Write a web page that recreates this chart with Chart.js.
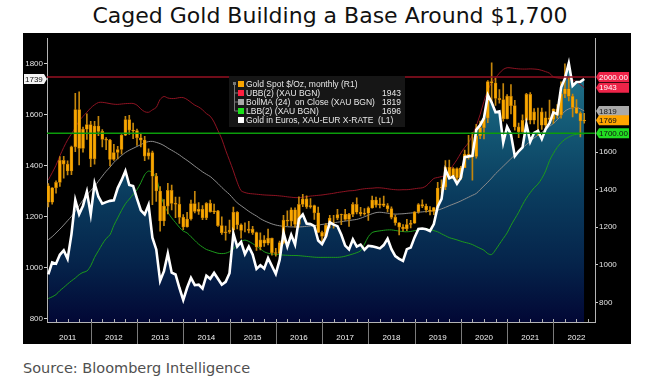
<!DOCTYPE html>
<html>
<head>
<meta charset="utf-8">
<script src="https://cdn.jsdelivr.net/npm/chart.js@4.4.1/dist/chart.umd.min.js"></script>
<style>
  body { margin: 0; width: 660px; height: 381px; background: #fff; overflow: hidden; font-family: "DejaVu Sans", sans-serif; }
  #title { position: absolute; left: 0; top: 3px; width: 660px; text-align: center; font-size: 22px; color: #111; }
  #box { position: absolute; left: 23px; top: 33px; width: 608px; height: 311px; background: #000; }
  #source { position: absolute; left: 23px; top: 360px; font-size: 14.5px; color: #505050; }
</style>
</head>
<body>
<div id="title">Caged Gold Building a Base Around $1,700</div>
<div id="box"><canvas id="chartCanvas" width="608" height="311"></canvas></div>
<div id="source">Source: Bloomberg Intelligence</div>
<script>
/********** DATA (monthly, Jan 2011 - Aug 2022) **********/
const years = ['2011','2012','2013','2014','2015','2016','2017','2018','2019','2020','2021','2022'];

// gold spot $/oz, monthly candles (right axis)
const goldOpen = [
  1421,1333,1410,1439,1556,1536,1500,1628,1826,1620,1722,1746,
  1564,1739,1710,1668,1664,1561,1598,1614,1690,1773,1717,1714,
  1676,1664,1579,1597,1472,1393,1234,1313,1396,1327,1323,1253,
  1202,1244,1326,1284,1296,1250,1327,1282,1287,1209,1171,1176,
  1184,1280,1213,1183,1183,1190,1172,1095,1133,1115,1142,1065,
  1061,1118,1238,1233,1293,1215,1322,1351,1309,1316,1277,1173,
  1152,1211,1249,1249,1268,1269,1242,1269,1322,1280,1271,1275,
  1303,1345,1318,1325,1316,1299,1253,1224,1201,1192,1215,1222,
  1282,1321,1313,1292,1284,1305,1409,1414,1520,1472,1513,1464,
  1517,1589,1585,1577,1687,1730,1781,1975,1968,1886,1879,1777,
  1898,1847,1734,1708,1769,1907,1770,1814,1814,1743,1783,1774,
  1829,1797,1909,1937,1897,1837,1807,1766
];
const goldHigh = [
  1432,1411,1447,1576,1577,1553,1632,1913,1921,1733,1804,1764,
  1764,1791,1720,1677,1668,1641,1631,1693,1790,1796,1755,1723,
  1694,1684,1617,1605,1487,1416,1348,1434,1424,1361,1361,1267,
  1280,1345,1392,1331,1315,1332,1345,1323,1290,1255,1207,1238,
  1307,1284,1219,1224,1232,1205,1175,1170,1156,1191,1143,1088,
  1127,1263,1287,1304,1303,1362,1375,1367,1353,1318,1307,1180,
  1220,1264,1263,1296,1270,1296,1274,1331,1357,1306,1299,1309,
  1366,1361,1356,1366,1326,1309,1265,1225,1214,1243,1237,1284,
  1326,1346,1324,1310,1306,1439,1453,1555,1557,1518,1516,1524,
  1611,1689,1704,1748,1765,1789,1981,2075,1992,1933,1965,1906,
  1959,1875,1755,1798,1913,1917,1832,1834,1834,1814,1877,1831,
  1853,1974,2070,1998,1909,1879,1814,1807
];
const goldLow = [
  1308,1323,1381,1417,1462,1478,1480,1603,1532,1600,1667,1523,
  1536,1688,1627,1613,1527,1556,1564,1589,1688,1694,1672,1635,
  1627,1555,1562,1321,1338,1180,1208,1271,1292,1251,1221,1187,
  1200,1238,1277,1268,1240,1240,1280,1273,1204,1162,1131,1168,
  1167,1191,1142,1175,1170,1162,1077,1080,1098,1106,1052,1046,
  1058,1111,1208,1207,1200,1200,1310,1301,1302,1242,1171,1123,
  1146,1196,1195,1240,1214,1236,1205,1256,1271,1261,1264,1237,
  1302,1307,1303,1310,1282,1245,1211,1160,1180,1182,1196,1221,
  1275,1304,1281,1266,1267,1306,1382,1400,1459,1459,1445,1454,
  1517,1563,1451,1568,1671,1670,1757,1863,1848,1860,1765,1776,
  1803,1717,1677,1705,1766,1750,1750,1688,1721,1722,1759,1753,
  1780,1781,1890,1872,1787,1805,1681,1754
];
const goldClose = [
  1333,1410,1439,1556,1536,1500,1628,1826,1620,1722,1746,1564,
  1739,1710,1668,1664,1561,1598,1614,1690,1773,1717,1714,1676,
  1664,1579,1597,1472,1393,1234,1313,1396,1327,1323,1253,1202,
  1244,1326,1284,1296,1250,1327,1282,1287,1209,1171,1176,1184,
  1280,1213,1183,1183,1190,1172,1095,1133,1115,1142,1065,1061,
  1118,1238,1233,1293,1215,1322,1351,1309,1316,1277,1173,1152,
  1211,1249,1249,1268,1269,1242,1269,1322,1280,1271,1275,1303,
  1345,1318,1325,1316,1299,1253,1224,1201,1192,1215,1222,1282,
  1321,1313,1292,1284,1305,1409,1414,1520,1472,1513,1464,1517,
  1589,1585,1577,1687,1730,1781,1975,1968,1886,1879,1777,1898,
  1847,1734,1708,1769,1907,1770,1814,1814,1743,1783,1774,1829,
  1797,1909,1937,1897,1837,1807,1766,1769
];

// gold in euros, XAU-EUR (left axis)
const euroClose = [
  974,1021,1016,1051,1068,1035,1131,1265,1210,1243,1298,1209,
  1330,1278,1251,1257,1262,1264,1312,1343,1379,1324,1320,1271,
  1225,1209,1246,1118,1072,949,987,1056,981,974,922,874,
  922,961,932,934,919,969,957,980,957,934,945,979,
  1134,1083,1101,1054,1083,1052,996,1010,997,1038,1007,976,
  1031,1138,1083,1129,1091,1191,1209,1173,1171,1163,1107,1093,
  1122,1178,1169,1163,1129,1087,1072,1111,1083,1091,1071,1086,
  1084,1080,1076,1089,1114,1073,1046,1035,1027,1073,1079,1119,
  1152,1154,1151,1144,1171,1239,1270,1384,1350,1357,1329,1352,
  1433,1436,1438,1540,1558,1586,1676,1647,1609,1612,1490,1552,
  1522,1437,1456,1471,1563,1493,1528,1536,1504,1543,1566,1608,
  1601,1705,1741,1800,1712,1727,1728,1739
];

// bollinger bands (24) (right axis)
const upperBand = [
  1452,1490,1530,1580,1625,1665,1697,1730,1765,1790,1812,1835,
  1852,1864,1865,1862,1858,1855,1854,1856,1858,1859,1859,1850,
  1830,1815,1812,1825,1838,1880,1896,1888,1885,1886,1890,1890,
  1880,1865,1850,1840,1825,1805,1791,1760,1715,1670,1610,1556,
  1500,1440,1395,1385,1380,1378,1376,1374,1372,1371,1370,1369,
  1367,1365,1362,1360,1358,1358,1360,1363,1366,1368,1370,1372,
  1375,1378,1381,1385,1388,1391,1394,1395,1398,1402,1405,1407,
  1408,1410,1410,1408,1405,1402,1400,1399,1400,1400,1402,1405,
  1408,1410,1420,1440,1460,1465,1470,1475,1500,1530,1560,1595,
  1625,1650,1690,1740,1800,1870,1930,1970,1995,2020,2040,2049,
  2048,2045,2043,2042,2042,2043,2042,2040,2035,2028,2020,2000,
  1995,1993,1992,1990,1985,1975,1960,1943
];
const bollMA = [
  1134,1150,1170,1190,1212,1235,1258,1285,1315,1345,1372,1395,
  1418,1445,1472,1498,1520,1545,1565,1582,1598,1610,1620,1630,
  1640,1650,1656,1657,1652,1645,1635,1622,1610,1598,1585,1570,
  1556,1541,1525,1510,1495,1482,1470,1452,1433,1412,1393,1375,
  1352,1330,1315,1300,1285,1272,1260,1246,1235,1226,1218,1212,
  1208,1205,1203,1202,1202,1202,1203,1205,1207,1209,1212,1215,
  1218,1221,1224,1227,1230,1233,1236,1239,1242,1248,1256,1264,
  1272,1278,1280,1278,1275,1272,1270,1271,1272,1274,1276,1278,
  1280,1282,1284,1286,1288,1291,1298,1306,1315,1323,1331,1340,
  1350,1360,1370,1380,1400,1420,1440,1462,1485,1505,1525,1545,
  1565,1585,1605,1622,1640,1658,1675,1690,1705,1720,1737,1752,
  1772,1795,1818,1830,1836,1838,1830,1819
];
const lowerBand = [
  821,830,842,863,880,898,915,930,948,960,967,995,
  1040,1075,1110,1140,1160,1210,1250,1290,1325,1350,1375,1400,
  1437,1480,1499,1490,1465,1384,1320,1280,1250,1225,1200,1180,
  1170,1150,1130,1110,1095,1082,1075,1068,1062,1060,1062,1070,
  1085,1105,1125,1132,1125,1113,1100,1085,1070,1062,1058,1056,
  1054,1052,1051,1050,1050,1049,1047,1045,1043,1041,1040,1040,
  1040,1040,1040,1040,1042,1046,1052,1058,1065,1075,1110,1150,
  1172,1178,1181,1184,1186,1186,1183,1180,1177,1176,1178,1182,
  1186,1190,1191,1188,1182,1176,1165,1155,1145,1139,1133,1126,
  1120,1115,1108,1098,1088,1078,1060,1055,1080,1110,1140,1170,
  1210,1245,1280,1320,1355,1384,1410,1430,1460,1500,1555,1593,
  1625,1650,1668,1680,1690,1695,1697,1696
];

const leftTicks = [800, 1000, 1200, 1400, 1600, 1800];
const rightTicks = [800, 1000, 1200, 1400, 1600];
const capLine = 2000;   // red line, right axis
const floorLine = 1700; // green line, right axis

/********** HELPERS **********/
// month i is plotted at its month end (Jan 2011 start = 0)
const xy = arr => arr.map((v, i) => ({ x: i + 1, y: v }));
const last = arr => arr[arr.length - 1];
const tickFont = { family: 'Liberation Sans', size: 8 };

function areaGradient(context) {
  const { ctx, chartArea } = context.chart;
  if (!chartArea) return 'rgba(0,0,0,0)';
  const g = ctx.createLinearGradient(0, chartArea.top, 0, chartArea.bottom);
  g.addColorStop(0, '#2a8298');
  g.addColorStop(0.3, '#145a76');
  g.addColorStop(0.55, '#0a3c5e');
  g.addColorStop(0.8, '#05234a');
  g.addColorStop(1, '#020735');
  return g;
}

function badge(ctx, left, y, w, text, bg, fg, pointLeft) {
  const h = 10;
  ctx.beginPath();
  if (pointLeft) {
    ctx.moveTo(left, y);
    ctx.lineTo(left + 3, y - h / 2);
    ctx.lineTo(left + w, y - h / 2);
    ctx.lineTo(left + w, y + h / 2);
    ctx.lineTo(left + 3, y + h / 2);
  } else {
    ctx.moveTo(left + w, y);
    ctx.lineTo(left + w - 3, y - h / 2);
    ctx.lineTo(left, y - h / 2);
    ctx.lineTo(left, y + h / 2);
    ctx.lineTo(left + w - 3, y + h / 2);
  }
  ctx.closePath();
  ctx.fillStyle = bg;
  ctx.fill();
  ctx.fillStyle = fg;
  ctx.font = '8px "Liberation Sans"';
  ctx.textBaseline = 'middle';
  ctx.textAlign = 'left';
  ctx.fillText(text, pointLeft ? left + 3 : left + 1, y + 0.5);
}

/********** DECORATIONS (ref lines, separators, badges, legend) **********/
const decor = {
  id: 'decor',
  afterDatasetsDraw(chart) {
    const { ctx, chartArea: a, scales } = chart;
    ctx.save();
    const hline = (y, color) => {
      ctx.strokeStyle = color; ctx.lineWidth = 1.5;
      ctx.beginPath(); ctx.moveTo(a.left, y); ctx.lineTo(a.right, y); ctx.stroke();
    };
    hline(scales.yR.getPixelForValue(capLine), '#961022');
    hline(scales.yR.getPixelForValue(floorLine), '#0b9c0b');
    ctx.restore();
  },
  afterDraw(chart) {
    const { ctx, chartArea: a, scales } = chart;
    const { x, yL, yR } = scales;
    ctx.save();

    // year separators below the axis
    ctx.strokeStyle = '#7a7a7a'; ctx.lineWidth = 1;
    for (let k = 1; k < years.length; k++) {
      const px = Math.round(x.getPixelForValue(12 * k)) + 0.5;
      ctx.beginPath(); ctx.moveTo(px, a.bottom); ctx.lineTo(px, chart.height); ctx.stroke();
    }
    // quarter ticks on the axis
    ctx.strokeStyle = '#b0b0b0';
    for (let m = 3; m < x.max; m += 3) {
      const px = Math.round(x.getPixelForValue(m)) + 0.5;
      ctx.beginPath(); ctx.moveTo(px, a.bottom - 3); ctx.lineTo(px, a.bottom); ctx.stroke();
    }

    // right side value badges
    const rx = a.right + 1, bw = 33;
    badge(ctx, rx, yR.getPixelForValue(capLine), bw, capLine.toFixed(2), '#ee2449', '#fff', true);
    badge(ctx, rx, yR.getPixelForValue(last(upperBand)), bw, String(last(upperBand)), '#ee2449', '#fff', true);
    badge(ctx, rx, yR.getPixelForValue(last(bollMA)), bw, String(last(bollMA)), '#a9a9a9', '#1a1a1a', true);
    badge(ctx, rx, yR.getPixelForValue(last(goldClose)), bw, String(last(goldClose)), '#ffa500', '#111', true);
    badge(ctx, rx, yR.getPixelForValue(floorLine), bw, floorLine.toFixed(2), '#22dd22', '#111', true);
    // left badge: last euro value
    badge(ctx, 1, yL.getPixelForValue(last(euroClose)), a.left - 1, String(last(euroClose)), '#f4f4f4', '#111', false);

    // legend box
    const lx = 206, ly = 43, lw = 176, lh = 51;
    ctx.fillStyle = '#161616';
    ctx.fillRect(lx, ly, lw, lh);
    const rows = [
      ['Gold Spot $/Oz, monthly (R1)', '#f7a400', ''],
      ['UBB(2) (XAU BGN)', '#ff1f3f', String(last(upperBand))],
      ['BollMA (24)  on Close (XAU BGN)', '#a8a8a8', String(last(bollMA))],
      ['LBB(2) (XAU BGN)', '#19e019', String(last(lowerBand))],
      ['Gold in Euros, XAU-EUR X-RATE  (L1)', '#ffffff', '']
    ];
    // tree connector
    ctx.strokeStyle = '#777'; ctx.lineWidth = 1;
    ctx.beginPath();
    ctx.moveTo(lx + 5.5, ly + 8); ctx.lineTo(lx + 5.5, ly + 35); ctx.lineTo(lx + 9, ly + 35);
    ctx.moveTo(lx + 5.5, ly + 17); ctx.lineTo(lx + 9, ly + 17);
    ctx.moveTo(lx + 5.5, ly + 26); ctx.lineTo(lx + 9, ly + 26);
    ctx.stroke();
    ctx.fillStyle = '#777';
    ctx.fillRect(lx + 4, ly + 6, 3, 3);
    ctx.font = '8.5px "Liberation Sans"';
    ctx.textBaseline = 'middle';
    rows.forEach((r, i) => {
      const cy = ly + 8 + i * 9;
      ctx.fillStyle = r[1];
      ctx.fillRect(lx + 9, cy - 3, 6, 6);
      ctx.fillStyle = '#e8e8e8';
      ctx.textAlign = 'left';
      ctx.fillText(r[0], lx + 17, cy + 0.5);
      if (r[2]) {
        ctx.textAlign = 'right';
        ctx.fillText(r[2], lx + lw - 4, cy + 0.5);
      }
    });
    ctx.restore();
  }
};

/********** CHART.JS SETUP **********/
const plain = v => String(v);
const ctx = document.getElementById('chartCanvas').getContext('2d');
new Chart(ctx, {
  type: 'line',
  data: {
    datasets: [
      { type: 'line', label: 'area', data: xy(euroClose), yAxisID: 'yL', borderWidth: 0,
        pointRadius: 0, fill: 'start', backgroundColor: areaGradient, order: 10 },
      { type: 'line', label: 'UBB(2)', data: xy(upperBand), yAxisID: 'yR', borderColor: '#8e1322',
        borderWidth: 1, pointRadius: 0, fill: false, tension: 0.3, order: 8 },
      { type: 'line', label: 'BollMA (24)', data: xy(bollMA), yAxisID: 'yR', borderColor: '#8c8c8c',
        borderWidth: 1, pointRadius: 0, fill: false, tension: 0.3, order: 8 },
      { type: 'line', label: 'LBB(2)', data: xy(lowerBand), yAxisID: 'yR', borderColor: '#1c9a1c',
        borderWidth: 1, pointRadius: 0, fill: false, tension: 0.3, order: 8 },
      { type: 'bar', label: 'wick', data: goldLow.map((l, i) => ({ x: i + 1, y: [l, goldHigh[i]] })),
        yAxisID: 'yR', backgroundColor: '#c4860c', barThickness: 1, grouped: false, order: 5 },
      { type: 'bar', label: 'Gold Spot', data: goldOpen.map((o, i) => ({ x: i + 1, y: [o, goldClose[i]] })),
        yAxisID: 'yR', backgroundColor: '#f8a700', borderColor: '#b87400', borderWidth: 0.6,
        borderSkipped: false, barThickness: 3, grouped: false, order: 4 },
      { type: 'line', label: 'Gold in Euros', data: xy(euroClose), yAxisID: 'yL', borderColor: '#ffffff',
        borderWidth: 2.6, pointRadius: 0, fill: false, order: 1 }
    ]
  },
  options: {
    responsive: false,
    animation: false,
    devicePixelRatio: 1,
    layout: { padding: 0 },
    plugins: { legend: { display: false }, tooltip: { enabled: false } },
    scales: {
      x: {
        type: 'linear', min: 0.66, max: 142.8, offset: false,
        afterBuildTicks: s => { s.ticks = years.map((y, k) => ({ value: 12 * k + 6 })); },
        afterFit: s => { s.height = 22; },
        ticks: { callback: v => years[Math.round((v - 6) / 12)], color: '#f0f0f0', font: tickFont,
                 padding: 11, maxRotation: 0, autoSkip: false },
        grid: { display: false, drawTicks: false },
        border: { display: true, color: '#b4b4b4' }
      },
      yL: {
        type: 'linear', position: 'left', min: 788, max: 1896,
        afterBuildTicks: s => { s.ticks = leftTicks.map(v => ({ value: v })); },
        afterFit: s => { s.width = 24; },
        ticks: { color: '#e0e0e0', font: tickFont, padding: 1, callback: plain },
        grid: { drawOnChartArea: false, tickLength: 3, color: '#d0d0d0' },
        border: { display: true, color: '#b4b4b4' }
      },
      yR: {
        type: 'linear', position: 'right', min: 696, max: 2203,
        afterBuildTicks: s => { s.ticks = rightTicks.map(v => ({ value: v })); },
        afterFit: s => { s.width = 36; },
        ticks: { color: '#e0e0e0', font: tickFont, padding: 1, callback: plain },
        grid: { drawOnChartArea: false, tickLength: 3, color: '#d0d0d0' },
        border: { display: true, color: '#b4b4b4' }
      }
    }
  },
  plugins: [decor]
});
</script>
</body>
</html>
